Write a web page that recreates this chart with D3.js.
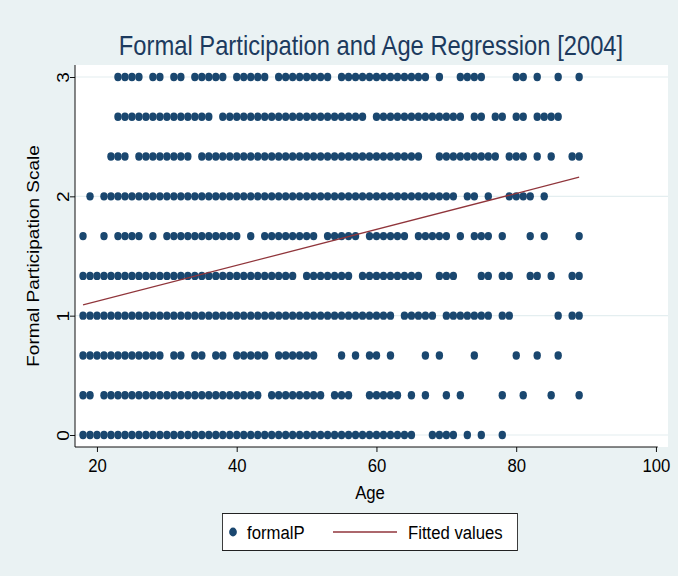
<!DOCTYPE html>
<html>
<head>
<meta charset="utf-8">
<script src="https://cdn.jsdelivr.net/npm/d3@7/dist/d3.min.js"></script>
<style>
  * { margin: 0; padding: 0; }
  body { width: 678px; height: 576px; overflow: hidden; background: #eaf2f3; }
  text { font-family: "Liberation Sans", Arial, sans-serif; }
</style>
</head>
<body>
<svg id="chart" width="678" height="576"></svg>
<script>
const levels = [0, 1/3, 2/3, 1, 4/3, 5/3, 2, 7/3, 8/3, 3];

const ages0 = [18,19,20,21,22,23,24,25,26,27,28,29,30,31,32,33,34,35,36,37,38,39,40,41,42,43,44,45,46,47,48,49,50,51,52,53,54,55,56,57,58,59,60,61,62,63,64,65,68,69,70,71,73,75,78];
const ages1_3 = [18,19,21,22,23,24,25,26,27,28,29,30,31,32,33,34,35,36,37,38,39,40,41,42,43,45,46,47,48,49,50,51,52,54,55,56,59,60,61,62,63,65,67,70,72,78,81,85,89];
const ages2_3 = [18,19,20,21,22,23,24,25,26,27,28,29,31,32,34,35,37,38,40,41,42,43,44,46,47,48,49,50,51,55,57,59,60,62,67,69,74,80,83,86];
const ages1 = [18,19,20,21,22,23,24,25,26,27,28,29,30,31,32,33,34,35,36,37,38,39,40,41,42,43,44,45,46,47,48,49,50,51,52,53,54,55,56,57,58,59,60,61,62,64,65,66,67,68,70,71,72,73,74,75,76,78,79,86,88,89];
const ages4_3 = [18,19,20,21,22,23,24,25,26,27,28,29,30,31,32,33,34,35,36,37,38,39,40,41,42,43,44,45,46,47,48,50,51,52,53,54,55,56,58,59,60,61,62,63,64,65,66,69,70,71,75,76,78,79,82,83,85,88,89];
const ages5_3 = [18,21,23,24,25,26,28,30,31,32,33,34,35,36,37,38,39,40,42,44,45,46,47,48,49,50,51,53,54,55,56,57,59,60,61,62,63,64,66,67,68,69,70,72,74,75,76,78,82,84,89];
const ages2 = [19,21,22,23,24,25,26,27,28,29,30,31,32,33,34,35,36,37,38,39,40,41,42,43,44,45,46,47,48,49,50,51,52,53,54,55,56,57,58,59,60,61,62,63,64,65,66,67,68,69,70,71,73,74,76,79,80,81,82,84];
const ages7_3 = [22,23,24,26,27,28,29,30,31,32,33,35,36,37,38,39,40,41,42,43,44,45,46,47,48,49,50,51,52,53,54,55,56,57,58,59,60,61,62,63,64,65,66,69,70,71,72,73,74,75,76,77,79,80,81,83,85,88,89];
const ages8_3 = [23,24,25,26,27,28,29,30,31,32,33,34,35,36,38,39,40,41,42,43,44,45,46,47,48,49,50,51,52,53,54,55,56,57,58,60,61,62,63,64,65,66,67,68,69,70,71,72,74,75,77,78,80,81,83,84,85,86];
const ages3 = [23,24,25,26,28,29,31,32,34,35,36,37,38,40,41,42,43,44,46,47,48,49,50,51,52,53,55,56,57,58,59,60,61,62,63,64,65,66,67,69,72,73,74,75,80,81,83,86,89];

const agesByLevel = [ages0, ages1_3, ages2_3, ages1, ages4_3, ages5_3, ages2, ages7_3, ages8_3, ages3];

// fitted regression line end points
const fitAges = [18, 89];
const fitValues = [1.09, 2.16];

const xTicks = [20, 40, 60, 80, 100];
const yTicks = [0, 1, 2, 3];

const title = "Formal Participation and Age Regression [2004]";
const xTitle = "Age";
const yTitle = "Formal Participation Scale";
const legendLabels = ["formalP", "Fitted values"];

const navy = "#1a476f";
const maroon = "#90353b";
const font = "Liberation Sans, Arial, sans-serif";

const points = [];
levels.forEach((lv, i) => agesByLevel[i].forEach(a => points.push({ age: a, val: lv })));

// the original graph is squeezed sideways, so draw wide and let the viewBox compress x
const K = 0.88;
const W = 678 / K;
const px = v => v / K;

const svg = d3.select("#chart")
  .attr("viewBox", `0 0 ${W} 576`)
  .attr("preserveAspectRatio", "none");

const plot = { left: px(75), right: px(668), top: 65, bottom: 447 };

const x = d3.scaleLinear().domain([20, 100]).range([px(97), px(656)]);
const y = d3.scaleLinear().domain([0, 3]).range([435, 77]);

svg.append("rect").attr("width", W).attr("height", 576).attr("fill", "#eaf2f3");

svg.append("rect")
  .attr("x", plot.left).attr("y", plot.top)
  .attr("width", plot.right - plot.left).attr("height", plot.bottom - plot.top)
  .attr("fill", "white");

// grid
svg.append("g").selectAll("line").data(yTicks).join("line")
  .attr("x1", plot.left).attr("x2", plot.right)
  .attr("y1", d => y(d)).attr("y2", d => y(d))
  .attr("stroke", "#e4eef0").attr("stroke-width", 1.2);

// points
svg.append("g").selectAll("circle").data(points).join("circle")
  .attr("cx", d => x(d.age)).attr("cy", d => y(d.val))
  .attr("r", 4.2).attr("fill", navy);

// fitted line
const fit = fitAges.map((a, i) => [a, fitValues[i]]);
svg.append("path")
  .datum(fit)
  .attr("d", d3.line().x(d => x(d[0])).y(d => y(d[1])))
  .attr("fill", "none").attr("stroke", maroon).attr("stroke-width", 1.3);

// x axis
const xAxis = svg.append("g")
  .attr("transform", `translate(0,${plot.bottom})`)
  .call(d3.axisBottom(x).tickValues(xTicks).tickSize(5).tickPadding(7).tickSizeOuter(0));
xAxis.select(".domain").attr("d", `M${plot.left},0H${x(100) + 2}`);
xAxis.selectAll("text").attr("font-size", 19).attr("font-family", font).attr("fill", "#000");

// y axis, labels turned sideways
const yAxis = svg.append("g")
  .attr("transform", `translate(${plot.left},0)`)
  .call(d3.axisLeft(y).tickValues(yTicks).tickFormat(d3.format("d")).tickSize(px(5)).tickSizeOuter(0));
yAxis.select(".domain").attr("d", `M0,${plot.top}V${plot.bottom}`);
yAxis.selectAll("text")
  .attr("font-size", 19).attr("font-family", font).attr("fill", "#000")
  .attr("x", 0).attr("y", 0).attr("dy", "0.35em")
  .attr("text-anchor", "middle")
  .attr("transform", `translate(${px(63) - plot.left},0) rotate(-90)`);

// titles
svg.append("text").attr("x", px(371)).attr("y", 55)
  .attr("text-anchor", "middle").attr("font-size", 27).attr("fill", "#1c3a5e")
  .text(title);

svg.append("text").attr("x", px(370)).attr("y", 499)
  .attr("text-anchor", "middle").attr("font-size", 19).attr("fill", "#000")
  .text(xTitle);

svg.append("text")
  .attr("transform", `translate(${px(39)},${(y(0) + y(3)) / 2}) rotate(-90)`)
  .attr("text-anchor", "middle").attr("font-size", 19).attr("fill", "#000")
  .text(yTitle);

// legend
const lg = svg.append("g");
lg.append("rect").attr("x", px(222.5)).attr("y", 513.5).attr("width", px(295)).attr("height", 37)
  .attr("fill", "white").attr("stroke", "#222").attr("stroke-width", 1);
lg.append("circle").attr("cx", px(233)).attr("cy", 532).attr("r", 4.4).attr("fill", navy);
lg.append("text").attr("x", px(247)).attr("y", 539).attr("font-size", 19).text(legendLabels[0]);
lg.append("line").attr("x1", px(333)).attr("x2", px(397)).attr("y1", 532).attr("y2", 532)
  .attr("stroke", maroon).attr("stroke-width", 1.3);
lg.append("text").attr("x", px(408)).attr("y", 539).attr("font-size", 19).text(legendLabels[1]);
</script>
</body>
</html>
